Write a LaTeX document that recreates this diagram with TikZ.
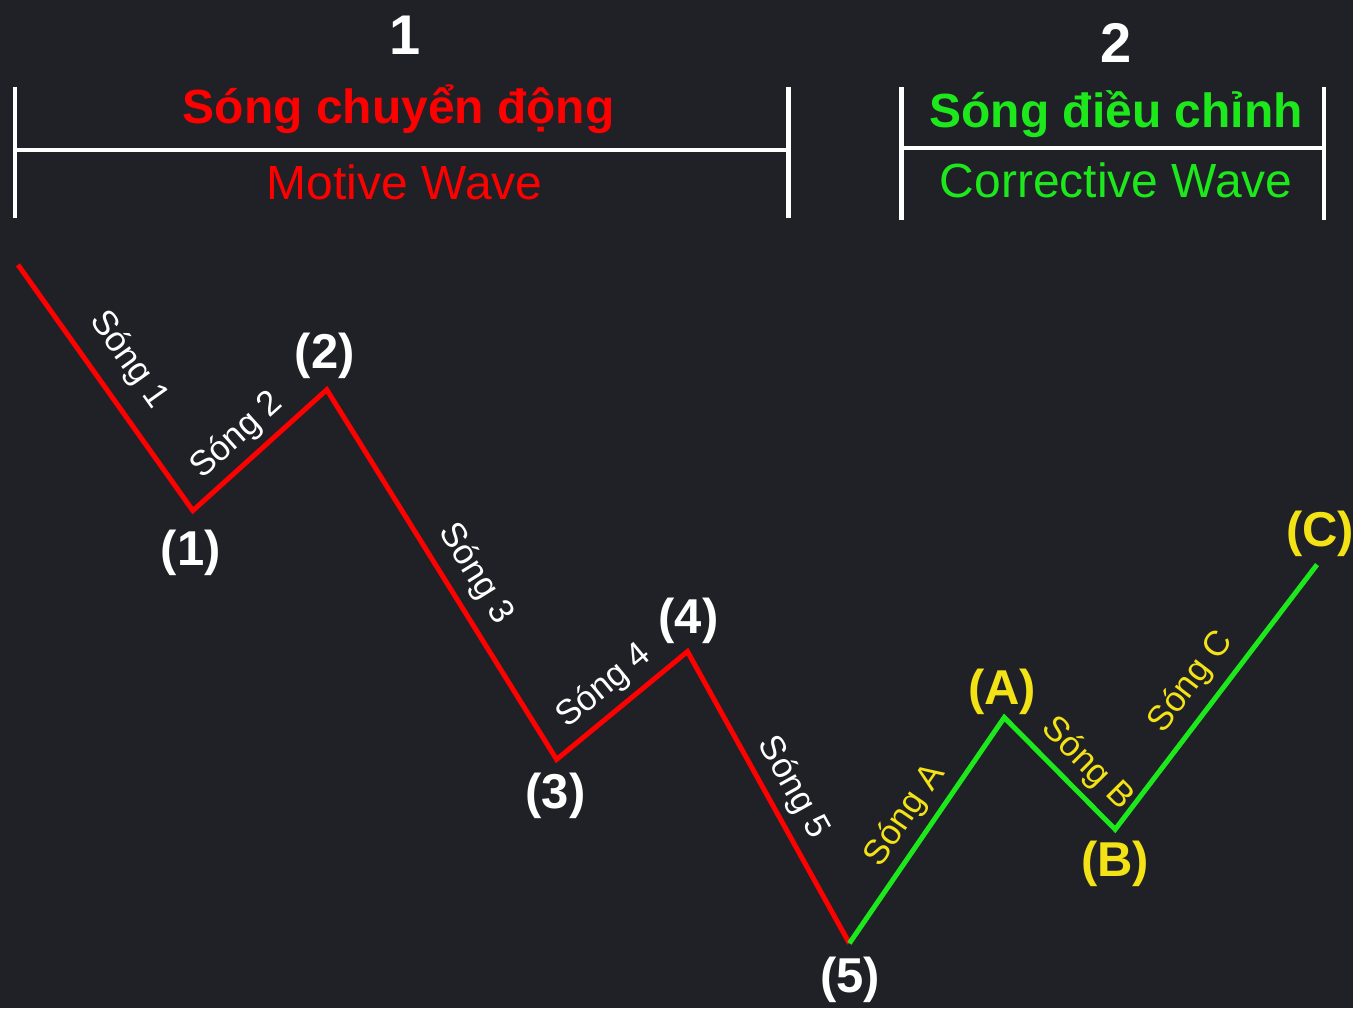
\documentclass[tikz,border=0pt]{standalone}
\usepackage{fontspec}
\setmainfont{Liberation Sans}
\definecolor{bgdark}{RGB}{32,33,38}
\definecolor{wavered}{RGB}{255,0,0}
\definecolor{wavegreen}{RGB}{28,232,28}
\definecolor{waveyellow}{RGB}{242,226,22}
\usetikzlibrary{positioning}

\begin{document}
\begin{tikzpicture}[
        x=0.5pt, y=-0.5pt,
        every node/.style={inner sep=0pt, text=white},
        bar/.style={draw=white, line width=2.4pt},
        motive/.style={draw=wavered, line width=2.5pt},
        corrective/.style={draw=wavegreen, line width=2.5pt},
        numlbl/.style={anchor=base, font=\bfseries\fontsize{28}{32}\selectfont},
        headlbl/.style={anchor=base, font=\bfseries\fontsize{24}{28}\selectfont},
        sublbl/.style={anchor=base, font=\fontsize{24}{28}\selectfont},
        wavelbl/.style={sloped, above=3.5pt, font=\fontsize{17.5}{20}\selectfont},
        ptlbl/.style={font=\bfseries\fontsize{24.5}{28}\selectfont}
      ]
      % background and page size
      \fill[bgdark] (0,0) rectangle (1354,1009);

      % group 1: motive wave
      \coordinate (mtl) at (15,87);   \coordinate (mbl) at (15,218);
      \coordinate (mtr) at (789,87);  \coordinate (mbr) at (789,218);
      \coordinate (mml) at (15,150);  \coordinate (mmr) at (789,150);
      \draw[bar] (mtl) -- (mbl) (mtr) -- (mbr) (mml) -- (mmr);
      \node[numlbl] (num1) at (405,55) {1};
      \node[headlbl, text=wavered] (motvn) at (399,124) {Sóng chuyển động};
      \node[sublbl, text=wavered] (motve) at (405,200) {Motive Wave};

      % group 2: corrective wave
      \coordinate (ctl) at (902,87);  \coordinate (cbl) at (902,220);
      \coordinate (ctr) at (1325,87); \coordinate (cbr) at (1325,220);
      \coordinate (cml) at (902,148); \coordinate (cmr) at (1325,148);
      \draw[bar] (ctl) -- (cbl) (ctr) -- (cbr) (cml) -- (cmr);
      \node[numlbl] (num2) at (1117,63) {2};
      \node[headlbl, text=wavegreen] (corvn) at (1117,128) {Sóng điều chỉnh};
      \node[sublbl, text=wavegreen] (corve) at (1117,198) {Corrective Wave};

      % wave turning points
      \coordinate (w0) at (18,265);
      \coordinate (w1) at (193,511);
      \coordinate (w2) at (327,390);
      \coordinate (w3) at (557,760);
      \coordinate (w4) at (688,652);
      \coordinate (w5) at (850,944);
      \coordinate (wa) at (1005,718);
      \coordinate (wb) at (1116,830);
      \coordinate (wc) at (1318,565);

      \draw[motive] (w0)
        -- node[wavelbl, above=8pt, pos=.47] (s1) {Sóng 1} (w1)
        -- node[wavelbl, pos=.46] (s2) {Sóng 2} (w2)
        -- node[wavelbl, above=5pt, pos=.54] (s3) {Sóng 3} (w3)
        -- node[wavelbl, pos=.49] (s4) {Sóng 4} (w4)
        -- node[wavelbl, pos=.51] (s5) {Sóng 5} (w5);
      \draw[corrective] (w5)
        -- node[wavelbl, text=waveyellow, pos=.5] (sa) {Sóng A} (wa)
        -- node[wavelbl, text=waveyellow, pos=.58] (sb) {Sóng B} (wb)
        -- node[wavelbl, text=waveyellow, above=5pt, pos=.49] (sc) {Sóng C} (wc);

      % point labels
      \node[ptlbl] (p1) at (191,553) {(1)};
      \node[ptlbl] (p2) at (325,356) {(2)};
      \node[ptlbl] (p3) at (556,796) {(3)};
      \node[ptlbl] (p4) at (689,621) {(4)};
      \node[ptlbl] (p5) at (851,981) {(5)};
      \node[ptlbl, text=waveyellow] (pa) at (1003,692) {(A)};
      \node[ptlbl, text=waveyellow] (pb) at (1116,864) {(B)};
      \node[ptlbl, text=waveyellow] (pc) at (1321,534) {(C)};
    \end{tikzpicture}
\end{document}
